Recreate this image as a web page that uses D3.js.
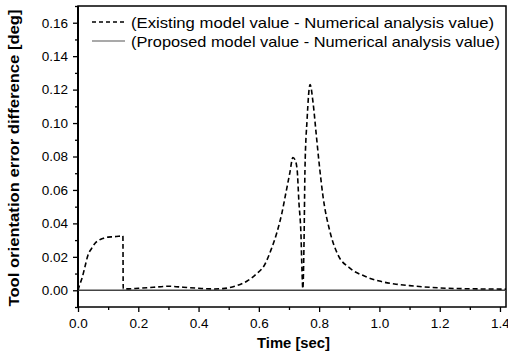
<!DOCTYPE html>
<html><head><meta charset="utf-8">
<script src="https://cdn.jsdelivr.net/npm/d3@7"></script>
<style>body{margin:0;background:#fff}svg{display:block}text{font-family:"Liberation Sans",Arial,sans-serif;fill:#000}</style>
</head><body><svg id="c" width="508" height="362"></svg>
<script>
const time = [0, 0.005, 0.013, 0.023, 0.033, 0.045, 0.056, 0.07, 0.083, 0.1, 0.116, 0.135, 0.149, 0.15, 0.2, 0.25, 0.3, 0.35, 0.4, 0.45, 0.48, 0.52, 0.56, 0.59, 0.62, 0.64, 0.66, 0.677, 0.69, 0.703, 0.713, 0.72, 0.727, 0.733, 0.74, 0.743, 0.746, 0.75, 0.753, 0.76, 0.77, 0.78, 0.79, 0.8, 0.813, 0.836, 0.863, 0.9, 0.95, 1.0, 1.05, 1.1, 1.2, 1.3, 1.42];
const existing = [0, 0.003, 0.007, 0.014, 0.021, 0.025, 0.028, 0.030, 0.031, 0.0318, 0.032, 0.0323, 0.0325, 0.0008, 0.0012, 0.0018, 0.0024, 0.0018, 0.0012, 0.0008, 0.001, 0.0024, 0.0054, 0.0095, 0.0155, 0.024, 0.0346, 0.0466, 0.0585, 0.0704, 0.0794, 0.078, 0.0722, 0.0525, 0.032, 0.0125, 0.001, 0.03, 0.072, 0.102, 0.123, 0.112, 0.094, 0.076, 0.056, 0.035, 0.021, 0.0135, 0.0085, 0.0055, 0.0038, 0.0028, 0.0014, 0.0009, 0.0007];
const proposedTime = [0, 0.35, 0.7, 1.05, 1.42];
const proposed = [0, 0, 0, 0, 0];
const xTicks = [0, 0.2, 0.4, 0.6, 0.8, 1.0, 1.2, 1.4];
const yTicks = [0, 0.02, 0.04, 0.06, 0.08, 0.10, 0.12, 0.14, 0.16];
const legendLabels = ["(Existing model value - Numerical analysis value)", "(Proposed model value - Numerical analysis value)"];

const svg = d3.select("#c");
const L = 78, R = 506, T = 6, B = 307;
const x = d3.scaleLinear().domain([0, 1.42]).range([L, R]);
const y = d3.scaleLinear().domain([-0.01, 0.17]).range([B, T]);

// frame
svg.append("rect").attr("x", L).attr("y", T).attr("width", R - L).attr("height", B - T)
  .attr("fill", "none").attr("stroke", "#000").attr("stroke-width", 1.5);

// axes
const xAxis = svg.append("g").attr("transform", `translate(0,${B})`)
  .call(d3.axisBottom(x).tickValues(xTicks).tickFormat(d3.format(".1f")).tickSize(5).tickPadding(6));
const xMinor = svg.append("g").attr("transform", `translate(0,${B})`)
  .call(d3.axisBottom(x).tickValues(d3.range(0.1, 1.42, 0.2)).tickFormat("").tickSize(3));
const yAxis = svg.append("g").attr("transform", `translate(${L},0)`)
  .call(d3.axisLeft(y).tickValues(yTicks).tickFormat(d3.format(".2f")).tickSize(5).tickPadding(5));
const yMinor = svg.append("g").attr("transform", `translate(${L},0)`)
  .call(d3.axisLeft(y).tickValues(d3.range(-0.01, 0.171, 0.02)).tickFormat("").tickSize(3));
[xAxis, xMinor, yAxis, yMinor].forEach(g => {
  g.select(".domain").remove();
  g.selectAll("line").attr("stroke", "#000").attr("stroke-width", 1.3);
  g.selectAll("text").style("font-size", "13.5px").attr("fill", "#000");
});
svg.append("line").attr("x1", L).attr("x2", L).attr("y1", T).attr("y2", B).attr("stroke", "#000").attr("stroke-width", 2);

// series
const line = d3.line().x(d => x(d[0])).y(d => y(d[1])).curve(d3.curveMonotoneX);
svg.append("path").datum(proposedTime.map((t, i) => [t, proposed[i]]))
  .attr("d", line).attr("fill", "none").attr("stroke", "#444").attr("stroke-width", 1.5);
svg.append("path").datum(time.map((t, i) => [t, existing[i]]))
  .attr("d", line).attr("fill", "none").attr("stroke", "#000").attr("stroke-width", 1.6)
  .attr("stroke-dasharray", "5,3");

// legend
const lg = svg.append("g");
const ly = [22, 41];
lg.append("line").attr("x1", 92).attr("x2", 125).attr("y1", ly[0]).attr("y2", ly[0])
  .attr("stroke", "#000").attr("stroke-width", 1.4).attr("stroke-dasharray", "4,3");
lg.append("line").attr("x1", 92).attr("x2", 125).attr("y1", ly[1]).attr("y2", ly[1])
  .attr("stroke", "#555").attr("stroke-width", 1.2);
const lw = [363, 369];
legendLabels.forEach((s, i) => {
  lg.append("text").attr("x", 131).attr("y", ly[i] + 5.5).text(s)
    .style("font-size", "15px").attr("textLength", lw[i]).attr("lengthAdjust", "spacingAndGlyphs");
});

// axis titles
svg.append("text").attr("x", 293.5).attr("y", 348).attr("text-anchor", "middle")
  .style("font-size", "15px").style("font-weight", "bold").attr("textLength", 73).attr("lengthAdjust", "spacingAndGlyphs")
  .text("Time [sec]");
svg.append("text").attr("transform", "translate(19,158) rotate(-90)").attr("text-anchor", "middle")
  .style("font-size", "15.5px").style("font-weight", "bold").attr("textLength", 297).attr("lengthAdjust", "spacingAndGlyphs")
  .text("Tool orientation error difference [deg]");
</script></body></html>
